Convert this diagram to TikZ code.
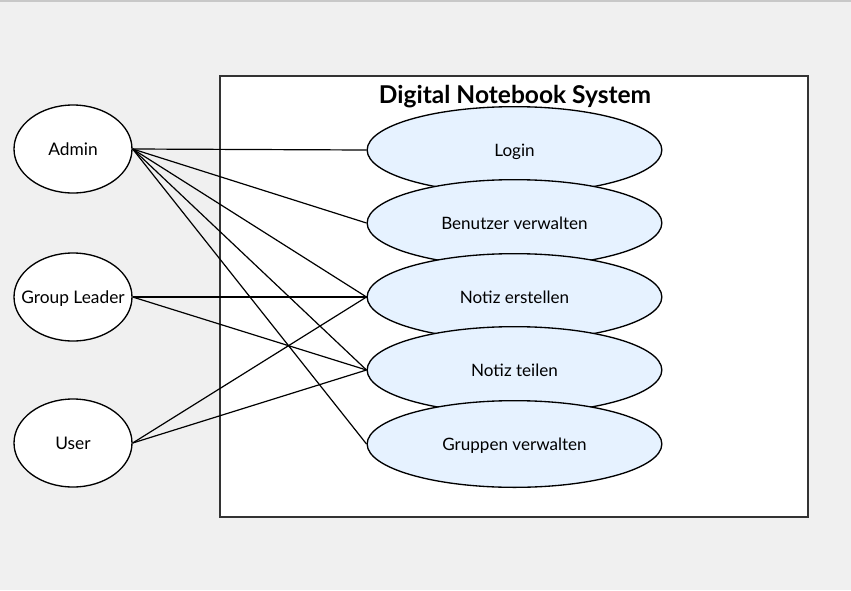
\documentclass[tikz,border=0pt]{standalone}
\usepackage{fontspec}
\setmainfont{Lato}
\usetikzlibrary{shapes.geometric}
\definecolor{bgc}{RGB}{240,240,240}
\definecolor{topc}{RGB}{200,200,200}
\definecolor{ucfill}{RGB}{230,242,255}
\definecolor{boxc}{RGB}{51,51,51}
\newcommand{\ctxt}[1]{\makebox[0pt][c]{#1}}
\tikzset{
  actor/.style={ellipse,draw=black,fill=white,line width=1pt,inner sep=0pt,
    text height=9.3pt,text depth=0pt,
    minimum width=88.5pt,minimum height=66pt,font=\fontsize{13}{15}\selectfont},
  usecase/.style={ellipse,draw=black,fill=ucfill,line width=1pt,inner sep=0pt,
    text height=9.3pt,text depth=0pt,
    minimum width=221pt,minimum height=65pt,font=\fontsize{12.8}{15}\selectfont},
  link/.style={draw=black,line width=0.9pt},
}
\begin{document}
\begin{tikzpicture}[x=0.75pt,y=-0.75pt]
\fill[bgc] (0,0) rectangle (851,590);
\useasboundingbox (0,0) rectangle (851,590);
\fill[topc] (0,0) rectangle (851,2);
\draw[boxc,fill=white,line width=1.2pt] (220,76) rectangle (808,517);
\node[actor] (admin) at (73,149) {\ctxt{Admin}};
\node[actor] (leader) at (73,297) {\ctxt{Group Leader}};
\node[actor] (user) at (73,443) {\ctxt{User}};
\node[usecase] (login) at (514.5,150) {\ctxt{Login}};
\node[usecase] (benutzer) at (514.5,223) {\ctxt{Benutzer verwalten}};
\node[usecase] (erstellen) at (514.5,297) {\ctxt{Notiz erstellen}};
\node[usecase] (teilen) at (514.5,370) {\ctxt{Notiz teilen}};
\node[usecase] (gruppen) at (514.5,444) {\ctxt{Gruppen verwalten}};
\draw[link] (admin.east) -- (login.west);
\draw[link] (admin.east) -- (benutzer.west);
\draw[link] (admin.east) -- (erstellen.west);
\draw[link] (admin.east) -- (teilen.west);
\draw[link] (admin.east) -- (gruppen.west);
\draw[link] (leader.east) -- (erstellen.west);
\draw[link] (leader.east) -- (teilen.west);
\draw[link] (user.east) -- (erstellen.west);
\draw[link] (user.east) -- (teilen.west);
\node[font=\fontsize{18.4}{21}\bfseries\selectfont,inner sep=0pt,anchor=base] (title) at (515,103) {Digital Notebook System};
\end{tikzpicture}
\end{document}
